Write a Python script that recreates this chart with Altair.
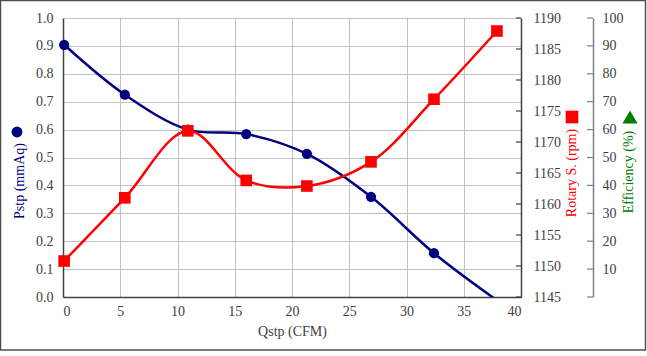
import altair as alt
import pandas as pd

# ---- data ----
qstp = [0.1, 5.4, 10.9, 16.0, 21.3, 26.9, 32.4, 37.9]
pstp = [0.904, 0.725, 0.600, 0.584, 0.513, 0.359, 0.157, -0.012]
rotary = [1150.8, 1161.0, 1171.8, 1163.8, 1162.9, 1166.8, 1176.9, 1187.9]

x_ticks = [0, 5, 10, 15, 20, 25, 30, 35, 40]
p_ticks = [0.0, 0.1, 0.2, 0.3, 0.4, 0.5, 0.6, 0.7, 0.8, 0.9, 1.0]
r_ticks = [1145, 1150, 1155, 1160, 1165, 1170, 1175, 1180, 1185, 1190]
e_ticks = [0, 10, 20, 30, 40, 50, 60, 70, 80, 90, 100]

FONT = "Liberation Serif"
FS = 14
NAVY = "#000080"
RED = "#ff0000"
GREEN = "#008000"
LABEL = "#404040"
W, H = 458, 279

df = pd.DataFrame({"q": qstp, "p": pstp, "r": rotary})
one = pd.DataFrame({"a": [0]})

common = dict(labelFont=FONT, labelFontSize=FS, labelColor=LABEL,
              labelOverlap=False, labelBound=False, ticks=False)

xenc = alt.X("q:Q", scale=alt.Scale(domain=[0, 40], nice=False),
             axis=alt.Axis(values=x_ticks, title="Qstp (CFM)", grid=True,
                           gridColor="#c0c0c0", domainColor=LABEL, domainWidth=1.5,
                           labelPadding=7, titlePadding=6, titleColor=LABEL,
                           titleFont=FONT, titleFontSize=FS,
                           titleFontWeight="normal", **common))

p_scale = alt.Scale(domain=[0, 1], nice=False, zero=False)
p_axis = alt.Axis(values=p_ticks, format=".1f", title=None, grid=True,
                  gridColor="#c0c0c0", domainColor=LABEL, domainWidth=1.5,
                  labelPadding=10, orient="left", **common)

p_line = alt.Chart(df).mark_line(color=NAVY, strokeWidth=2.5,
                                 interpolate="catmull-rom", clip=True).encode(
    x=xenc, y=alt.Y("p:Q", scale=p_scale, axis=p_axis))
p_pts = alt.Chart(df).transform_filter("datum.p >= 0").mark_point(
    shape="circle", filled=True, opacity=1, color=NAVY, size=105).encode(
    x="q:Q", y=alt.Y("p:Q", scale=p_scale, axis=p_axis))
p_layer = alt.layer(p_line, p_pts)

r_scale = alt.Scale(domain=[1145, 1190], nice=False, zero=False)
r_axis = alt.Axis(values=r_ticks, format="d", title=None, grid=False,
                  domainColor=LABEL, domainWidth=1.5,
                  labelPadding=12, orient="right", **common)
r_line = alt.Chart(df).mark_line(color=RED, strokeWidth=2.5,
                                 interpolate="catmull-rom").encode(
    x="q:Q", y=alt.Y("r:Q", scale=r_scale, axis=r_axis))
r_pts = alt.Chart(df).mark_point(shape="square", filled=True, opacity=1,
                                 color=RED, size=135).encode(
    x="q:Q", y=alt.Y("r:Q", scale=r_scale, axis=r_axis))
r_tick = alt.Chart(pd.DataFrame({"r": r_ticks})).mark_rule(
    color=LABEL, strokeWidth=1.2).encode(
    x=alt.value(W - 5), x2=alt.value(W),
    y=alt.Y("r:Q", scale=r_scale, axis=r_axis))
r_layer = alt.layer(r_line, r_pts, r_tick)

e_scale = alt.Scale(domain=[0, 100], nice=False, zero=False)
e_axis = alt.Axis(values=e_ticks, format="d",
                  labelExpr="datum.value == 0 ? '' : datum.label",
                  title=None, grid=False, domainColor="#808080", domainWidth=1.5,
                  labelPadding=9, orient="right", offset=72, **common)
e_layer = alt.Chart(pd.DataFrame({"e": e_ticks})).mark_rule(
    color="#808080", strokeWidth=1.2).encode(
    x=alt.value(W + 72 - 6), x2=alt.value(W + 72),
    y=alt.Y("e:Q", scale=e_scale, axis=e_axis))

# ---- decorations: axis titles with their markers, outer frame ----
def vtext(txt, color, x, y):
    return alt.Chart(one).mark_text(text=txt, angle=270, align="center",
                                    baseline="middle", font=FONT, fontSize=FS,
                                    color=color).encode(
        x=alt.value(x), y=alt.value(y))

def sym(shape, color, x, y, size):
    return alt.Chart(one).mark_point(shape=shape, filled=True, opacity=1,
                                     color=color, size=size).encode(
        x=alt.value(x), y=alt.value(y))

frame = alt.Chart(one).mark_rect(fill=None, stroke="#505050",
                                 strokeWidth=1.5).encode(
    x=alt.value(-62.5), x2=alt.value(582.5), y=alt.value(-17.5), y2=alt.value(332))

deco = alt.layer(
    vtext("Pstp (mmAq)", NAVY, -43, 163),
    sym("circle", NAVY, -46, 114, 120),
    vtext("Rotary S. (rpm)", RED, 509, 155),
    sym("square", RED, 509, 99, 160),
    vtext("Efficiency (%)", GREEN, 566, 154),
    sym("triangle-up", GREEN, 567, 99, 230),
    frame,
)

chart = alt.layer(p_layer, r_layer, e_layer, deco).resolve_scale(
    y="independent"
).properties(
    width=W, height=H,
    autosize=alt.AutoSizeParams(type="none"),
    padding={"left": 63, "top": 18, "right": 647 - 63 - W, "bottom": 356 - 18 - H},
    background="white",
).configure_view(stroke=None).configure_axis(
    labelFont=FONT, labelFontSize=FS, labelColor=LABEL, labelOverlap=False,
    titleFont=FONT, titleFontSize=FS, titleFontWeight="normal",
)

chart.save("out.html", embed_options={"renderer": "svg", "actions": False})
